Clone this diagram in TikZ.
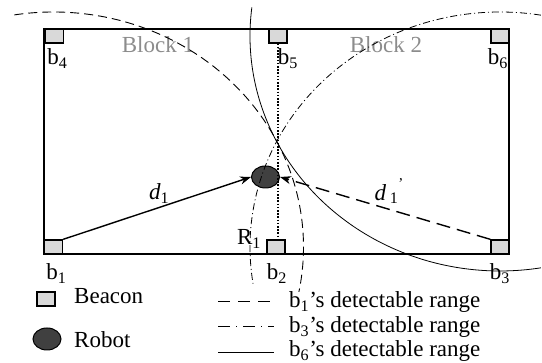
\documentclass[tikz,border=0pt]{standalone}
\usepackage{fontspec}
\setmainfont{Liberation Serif}
\usetikzlibrary{positioning,shapes.geometric,arrows.meta}

\begin{document}
\begin{tikzpicture}[
  x=1pt, y=1pt,
  every node/.style={font=\fontsize{23}{27}\selectfont, inner sep=1pt},
  beacon/.style={rectangle, draw, line width=1.3pt, fill=black!15, minimum width=18pt, minimum height=14pt, inner sep=0pt},
  robot/.style={ellipse, draw, line width=1pt, fill=black!75, minimum width=28pt, minimum height=22pt, inner sep=0pt},
  blk/.style={text=black!45},
  room/.style={line width=1.6pt},
  rngA/.style={line width=0.9pt, dash pattern=on 9pt off 5pt},
  rngB/.style={line width=0.8pt, dash pattern=on 7pt off 3pt on 1pt off 3pt},
  rngC/.style={line width=0.8pt},
  dist/.style={line width=1.4pt, -{Stealth[length=11pt,width=8pt]}},
  proj/.style={line width=1.8pt, dash pattern=on 1.6pt off 1.6pt}
]
  \useasboundingbox (0,0) rectangle (542,363);
  \draw[room] (44,109) rectangle (509,334);

  % beacons and robot
  \node[beacon] (b1) at (53.5,116) {};
  \node[beacon] (b2) at (276,116) {};
  \node[beacon] (b3) at (500,116) {};
  \node[beacon] (b4) at (54.5,327) {};
  \node[beacon] (b5) at (278,327) {};
  \node[beacon] (b6) at (500,327) {};
  \node[robot] (rb) at (265.5,186) {};

  \node[below=8pt of b1, xshift=3pt] (lb1) {b\textsubscript{1}};
  \node[below=8pt of b2, xshift=1pt] (lb2) {b\textsubscript{2}};
  \node[below=8pt of b3] (lb3) {b\textsubscript{3}};
  \node[below=4pt of b4, xshift=3pt] (lb4) {b\textsubscript{4}};
  \node[below=4pt of b5, xshift=10pt] (lb5) {b\textsubscript{5}};
  \node[below=4pt of b6, xshift=-2pt] (lb6) {b\textsubscript{6}};
  \node[blk] (blk1) at (158,318) {Block 1};
  \node[blk] (blk2) at (386,318) {Block 2};
  \node (r1) at (249,124) {R\textsubscript{1}};

  % detectable ranges
  \draw[rngA] (b1.center) ++(99:250pt and 235pt) arc[start angle=99, end angle=-11, x radius=250pt, y radius=235pt];
  \draw[rngB] (b3.center) ++(80.6:250pt and 235pt) arc[start angle=80.6, end angle=189, x radius=250pt, y radius=235pt];
  \draw[rngC] (b6.center) ++(173:250pt and 235pt) arc[start angle=173, end angle=279.4, x radius=250pt, y radius=235pt];

  \draw[proj] (b5) -- (b5 |- b2.north);
  \draw[dist] (b1.north east) -- node[midway, above=3pt, xshift=2pt] (d1) {\textit{d}\textsubscript{1}} (rb.west);
  \draw[dist, dash pattern=on 14pt off 7pt] (b3.north west) -- (rb.east);
  \node (d2) at (389,172) {\textit{d}\,\textsubscript{1}\raisebox{12pt}{\fontsize{15}{15}\selectfont '}};

  % legend
  \node[beacon] (kb) at (46,64) {};
  \node[anchor=base west] (tb) at (73,59) {Beacon};
  \node[robot] (kr) at (47,24) {};
  \node[anchor=base west] (tr) at (73,15) {Robot};
  \coordinate (k1) at (218,62);
  \coordinate (k2) at (218,37);
  \coordinate (k3) at (218,11);
  \node[anchor=base west] (t1) at (288,55) {b\textsubscript{1}'s detectable range};
  \node[anchor=base west] (t2) at (288,30.5) {b\textsubscript{3}'s detectable range};
  \node[anchor=base west] (t3) at (288,6.5) {b\textsubscript{6}'s detectable range};
  \draw[rngA, dash pattern=on 12pt off 8pt] (k1) -- (k1 -| 274,0);
  \draw[rngB, dash pattern=on 12pt off 6pt on 1pt off 6pt] (k2) -- (k2 -| 274,0);
  \draw[rngC] (k3) -- (k3 -| 274,0);
\end{tikzpicture}
\end{document}
